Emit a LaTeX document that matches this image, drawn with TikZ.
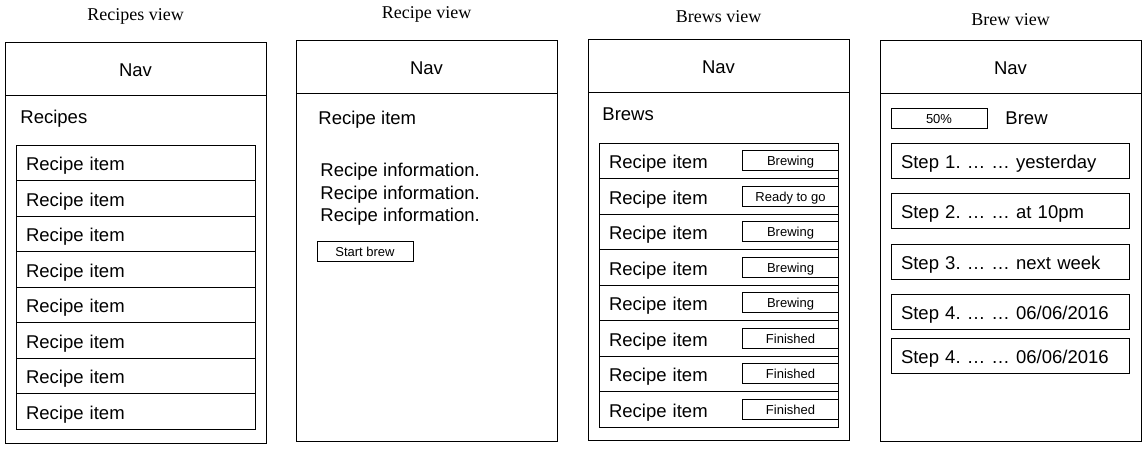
\documentclass[tikz,border=0pt]{standalone}
\usepackage{fontspec}
\setmainfont{Liberation Serif}
\newfontfamily\arial{Liberation Sans}
\newcommand\uifont{\arial\fontsize{18.5}{22.5}\selectfont}
\newcommand\smallui{\arial\fontsize{13}{15}\selectfont}
\newcommand\titlefont{\fontsize{18}{21}\selectfont}
\usetikzlibrary{positioning}
\frenchspacing
\begin{document}
\begin{tikzpicture}[x=1pt,y=-1pt,line width=0.9pt,
    view/.style={draw, minimum width=261pt, minimum height=401pt, anchor=north west, inner sep=0pt, outer sep=0pt},
    nav/.style={draw, minimum width=261pt, minimum height=53pt, anchor=north west, inner sep=0pt, outer sep=0pt, text height=15pt, text depth=0pt, font=\uifont},
    title/.style={inner sep=0pt, text height=12pt, text depth=0pt, font=\titlefont},
    head/.style={anchor=west, inner sep=0pt, text height=15.5pt, text depth=0pt, font=\uifont},
    item/.style={draw, text width=219.5pt, inner xsep=10pt, inner ysep=0pt, minimum height=35.5pt, text height=16pt, text depth=0pt, align=left, outer sep=0pt, font=\uifont},
    btn/.style={draw, minimum width=96pt, minimum height=20pt, inner sep=0pt, outer sep=0pt, text height=10pt, text depth=0pt, font=\smallui}]
\useasboundingbox (0,0) rectangle (1147,450);

% the four screens
\foreach \i/\x/\y/\ty/\t in {1/5/42/14/Recipes view, 2/296/40/12.3/Recipe view, 3/588/39.5/16.7/Brews view, 4/880/40/19/Brew view}{
  \node[view] (view\i) at (\x,\y) {};
  \node[nav] (nav\i) at (view\i.north west) {Nav};
  \node[title] (title\i) at (view\i.north |- 0,\ty) {\t};
}

% recipes view
\node[head] (recipes) at (20,115.5) {Recipes};
\node[item, anchor=north west] (r1) at (16,145) {Recipe item};
\foreach \i in {2,...,8}{
  \pgfmathtruncatemacro\j{\i-1}
  \node[item, below=0pt of r\j] (r\i) {Recipe item};
}

% recipe view
\node[head] (recipe) at (318,117) {Recipe item};
\node[inner sep=0pt, anchor=north west, align=left, font=\uifont] (info) at (320,163)
  {Recipe information.\\Recipe information.\\Recipe information.};
\node[btn, anchor=north west] (start) at (317,241) {Start brew};

% brews view
\node[head] (brews) at (602,112.5) {Brews};
\node[item, anchor=north west] (b1) at (599,143) {Recipe item};
\foreach \i in {2,...,8}{
  \pgfmathtruncatemacro\j{\i-1}
  \node[item, below=0pt of b\j] (b\i) {Recipe item};
}
\foreach \i/\s in {1/Brewing, 2/Ready to go, 3/Brewing, 4/Brewing, 5/Brewing, 6/Finished, 7/Finished, 8/Finished}
  \node[btn, anchor=east] (s\i) at (b\i.east) {\s};

% brew view
\node[btn, anchor=north west] (progress) at (891,108) {50\%};
\node[head] (brew) at (1005,117) {Brew};
\foreach \i/\y/\n/\t in {1/143/1/yesterday, 2/193/2/at 10pm, 3/244/3/next week, 4/294/4/{06/06/2016}, 5/338/4/{06/06/2016}}
  \node[item, text width=218.6pt, anchor=north west] (step\i) at (891,\y) {Step \n. … … \t};

\end{tikzpicture}
\end{document}
